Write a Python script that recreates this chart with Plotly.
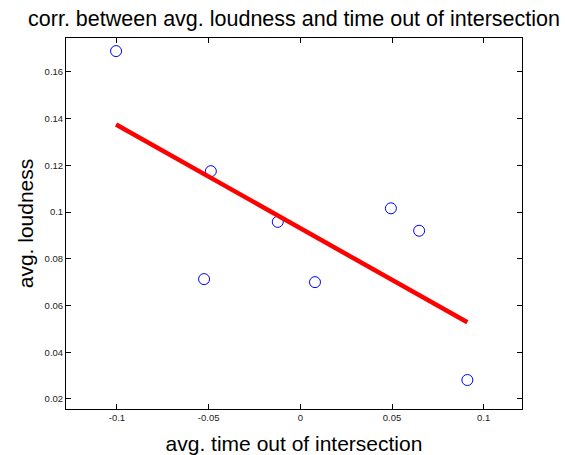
import plotly.graph_objects as go

# data
time_out = [-0.1005, -0.0488, -0.0123, -0.0525, 0.0494, 0.0648, 0.0080, 0.0911]
loudness = [0.1689, 0.1175, 0.0958, 0.0713, 0.1016, 0.0920, 0.0700, 0.0281]
fit_x = [-0.1005, 0.0911]
fit_y = [0.1375, 0.0528]
x_ticks = [-0.1, -0.05, 0, 0.05, 0.1]
x_ticktext = ["-0.1", "-0.05", "0", "0.05", "0.1"]
y_ticks = [0.02, 0.04, 0.06, 0.08, 0.10, 0.12, 0.14, 0.16]
y_ticktext = ["0.02", "0.04", "0.06", "0.08", "0.1", "0.12", "0.14", "0.16"]

W, H = 565, 455
ml, mr, mt, mb = 66, 43, 38, 46

fig = go.Figure()
fig.add_trace(go.Scatter(
    x=time_out, y=loudness, mode="markers",
    marker=dict(symbol="circle-open", size=11, color="#0000ff", line=dict(width=1, color="#0000ff")),
    showlegend=False, hoverinfo="skip"))
fig.add_trace(go.Scatter(
    x=fit_x, y=fit_y, mode="lines",
    line=dict(color="#ff0000", width=4.5),
    showlegend=False, hoverinfo="skip"))

axis_common = dict(
    showline=True, linecolor="black", linewidth=1, mirror="ticks",
    ticks="inside", ticklen=5, tickcolor="black", tickwidth=1,
    showgrid=False, zeroline=False, automargin=False,
    tickfont=dict(family="Liberation Sans, Arial, sans-serif", size=9.5, color="#222222"),
)

fig.update_layout(
    width=W, height=H,
    margin=dict(l=ml, r=mr, t=mt, b=mb, pad=0, autoexpand=False),
    paper_bgcolor="white", plot_bgcolor="white",
    font=dict(family="Liberation Sans, Arial, sans-serif", color="black"),
    title=dict(
        text="corr. between avg. loudness and time out of intersection",
        x=(ml + (W - ml - mr) / 2) / W, xanchor="center", xref="container",
        y=1 - 18 / H, yanchor="middle", yref="container",
        font=dict(size=21.5, color="black"),
    ),
    xaxis=dict(range=[-0.1278, 0.1209], tickvals=x_ticks, ticktext=x_ticktext,
               title=dict(text="avg. time out of intersection",
                          font=dict(size=21, color="black")),
               **axis_common),
    yaxis=dict(range=[0.0157, 0.1745], tickvals=y_ticks, ticktext=y_ticktext,
               title=dict(text="avg. loudness", standoff=5,
                          font=dict(size=21, color="black")),
               **axis_common),
)

fig.write_html("out.html")
